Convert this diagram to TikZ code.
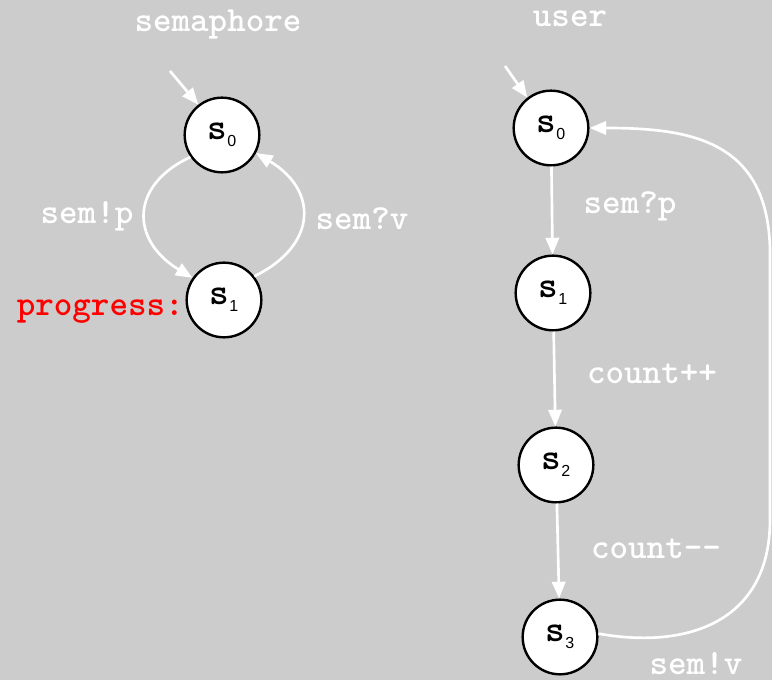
\documentclass[tikz,border=0pt]{standalone}
\usepackage{fontspec}
\newfontfamily\subfont{Liberation Sans}
\usetikzlibrary{arrows.meta}
\definecolor{bg}{HTML}{CCCCCC}
\definecolor{prog}{HTML}{FF0000}
\newcommand{\stname}[1]{{\ttfamily\fontsize{28}{28}\selectfont\bfseries s}\raisebox{-5pt}{\subfont\fontsize{12}{12}\selectfont #1}}
\begin{document}
\begin{tikzpicture}[x=0.75pt,y=-0.75pt,
  state/.style={circle,draw=black,fill=white,line width=1.8pt,minimum size=56pt,inner sep=0pt},
  lbl/.style={text=white,font=\ttfamily\fontsize{26.5}{26.5}\selectfont\bfseries,inner sep=0pt},
  trans/.style={draw=white,line width=2pt,-{Triangle[length=12.5pt,width=10pt]}}]
\path[fill=bg] (0,0) rectangle (772,680);
\useasboundingbox (0,0) rectangle (772,680);
% left automaton
\node[lbl] (tsem) at (218,25) {semaphore};
\node[state] (a0) at (222,135) {\stname{0}};
\node[state] (a1) at (224,300) {\stname{1}};
\coordinate (ai) at (170,71);
\draw[trans] (ai) -- (a0.128);
\draw[trans] (a0.215) .. controls (130,185) and (130,240) .. (a1.145);
\draw[trans] (a1.38) .. controls (318,245) and (318,190) .. (a0.332);
\node[lbl] (lp) at (87,216) {sem!p};
\node[lbl] (lv) at (362,219) {sem?v};
\node[lbl,text=prog,anchor=east] (lprog) at (184,312) {progress:};
% right automaton
\node[lbl] (tuser) at (570,19) {user};
\node[state] (b0) at (551,128) {\stname{0}};
\node[state] (b1) at (553,293) {\stname{1}};
\node[state] (b2) at (556,465) {\stname{2}};
\node[state] (b3) at (560,637) {\stname{3}};
\coordinate (bi) at (505,66);
\draw[trans] (bi) -- (b0.128);
\draw[trans] (b0) -- (b1);
\draw[trans] (b1) -- (b2);
\draw[trans] (b2) -- (b3);
\draw[trans] (b3.5) .. controls (690,650) and (770,620) .. (770,520) -- (770,250) .. controls (768,140) and (690,128) .. (b0.east);
\node[lbl] (rp) at (630,206) {sem?p};
\node[lbl] (rc1) at (652,374) {count++};
\node[lbl] (rc2) at (656,549) {count{-}{-}};
\node[lbl] (rv) at (696,664) {sem!v};
\end{tikzpicture}
\end{document}
